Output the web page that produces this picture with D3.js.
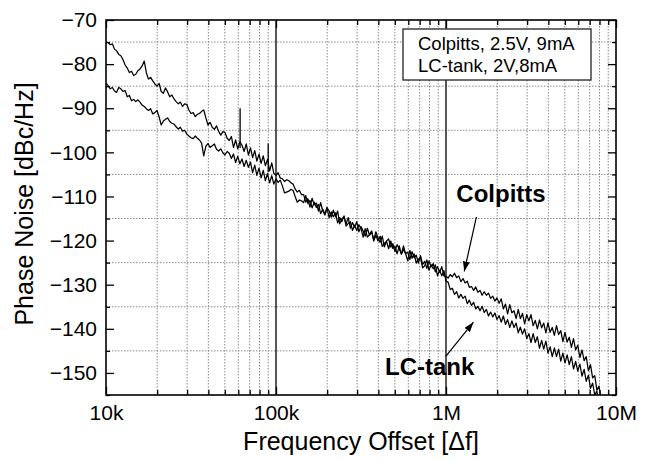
<!DOCTYPE html>
<html>
<head>
<meta charset="utf-8">
<script src="https://cdn.jsdelivr.net/npm/d3@7"></script>
<style>
body { margin: 0; background: #fff; }
svg text { font-family: "Liberation Sans", Arial, Helvetica, sans-serif; fill: #000; }
</style>
</head>
<body>
<svg width="647" height="460"></svg>
<script>
// sweep points inside one decade (80 per decade, log spaced)
let decadeSteps = [
  1.000, 1.029, 1.059, 1.090, 1.122, 1.155, 1.189, 1.223, 1.259, 1.296,
  1.334, 1.372, 1.413, 1.454, 1.496, 1.540, 1.585, 1.631, 1.679, 1.728,
  1.778, 1.830, 1.884, 1.939, 1.995, 2.054, 2.113, 2.175, 2.239, 2.304,
  2.371, 2.441, 2.512, 2.585, 2.661, 2.738, 2.818, 2.901, 2.985, 3.073,
  3.162, 3.255, 3.350, 3.447, 3.548, 3.652, 3.758, 3.868, 3.981, 4.097,
  4.217, 4.340, 4.467, 4.597, 4.732, 4.870, 5.012, 5.158, 5.309, 5.464,
  5.623, 5.788, 5.957, 6.131, 6.310, 6.494, 6.683, 6.879, 7.079, 7.286,
  7.499, 7.718, 7.943, 8.175, 8.414, 8.660, 8.913, 9.173, 9.441, 9.716
];
let sweepDecades = [1e4, 1e5, 1e6];

// phase noise readings, dBc/Hz (10k .. 10M)
let colpittsPN = [
  -75.0, -75.1, -75.6, -75.4, -76.6, -77.0, -77.8, -78.1, -79.0, -80.2,
  -80.9, -81.9, -81.6, -82.6, -82.3, -81.5, -81.1, -80.4, -79.3, -82.0,
  -83.4, -83.0, -83.8, -84.5, -85.0, -84.4, -86.2, -86.6, -85.4, -86.3,
  -87.4, -87.0, -87.9, -88.5, -89.0, -88.6, -89.6, -89.0, -89.1, -90.4,
  -91.2, -91.0, -91.9, -91.4, -91.2, -90.7, -90.4, -92.2, -93.8, -93.2,
  -94.3, -94.8, -94.0, -95.2, -96.1, -95.3, -95.5, -96.8, -97.3, -96.4,
  -98.9, -97.2, -99.2, -97.6, -98.4, -99.8, -98.1, -100.6, -99.0, -101.2,
  -99.6, -102.0, -100.4, -102.5, -100.8, -103.0, -101.6, -104.2, -102.4, -104.8,
  -105.2, -104.6, -105.8, -106.0, -106.6, -106.2, -106.4, -106.9, -107.2, -108.3,
  -109.0, -108.6, -109.6,
  -109.6, -111.3, -110.5, -112.4, -110.4, -111.9, -111.5, -113.3, -111.4, -113.3,
  -114.2, -112.5, -113.3, -114.7, -113.1, -114.6, -113.3, -116.2, -115.1, -114.6,
  -116.2, -114.8, -117.2, -115.9, -117.0, -115.7, -118.0, -116.8, -117.8, -119.0,
  -117.2, -118.8, -118.0, -119.8, -118.0, -119.4, -120.4, -119.0, -121.4, -120.1,
  -119.6, -121.5, -120.7, -122.5, -120.9, -121.9, -123.0, -121.2, -123.0, -122.6,
  -124.3, -122.5, -123.9, -123.3, -125.1, -123.4, -125.4, -124.7, -126.3, -124.6,
  -125.9, -125.2, -127.1, -125.9, -127.2, -125.9, -128.0,
  -128.1, -128.5, -127.7, -128.2, -127.4, -128.4, -128.0, -129.3, -128.6, -129.6,
  -129.2, -130.6, -130.4, -131.3, -130.5, -131.7, -131.3, -132.4, -131.6, -132.4,
  -131.9, -133.1, -132.6, -133.7, -133.0, -134.2, -133.2, -135.5, -134.4, -136.6,
  -134.5, -136.4, -135.9, -137.7, -135.6, -137.7, -136.5, -138.9, -136.8, -138.2,
  -136.8, -139.3, -138.1, -140.0, -138.0, -139.8, -138.7, -140.9, -138.6, -140.8,
  -139.7, -141.5, -139.3, -141.3, -140.4, -142.9, -140.8, -143.0, -141.9, -144.2,
  -142.2, -144.8, -143.7, -146.5, -144.8, -147.2, -146.3, -149.5, -148.1, -151.1,
  -150.6, -153.9, -153.0, -156.2, -155.7, -158.5, -158.0, -160, -160, -160,
  -160
];
let lcTankPN = [
  -84.3, -84.9, -85.6, -85.3, -86.1, -86.4, -85.3, -85.6, -86.2, -86.0,
  -87.4, -87.1, -88.3, -88.0, -88.5, -88.1, -88.6, -89.3, -89.6, -90.1,
  -90.5, -90.1, -91.3, -91.0, -90.5, -92.0, -93.8, -92.9, -92.5, -92.2,
  -93.0, -93.4, -93.6, -94.2, -94.7, -94.3, -95.2, -95.0, -95.8, -96.3,
  -96.7, -96.9, -96.3, -96.8, -97.2, -97.9, -100.8, -98.6, -98.0, -98.9,
  -98.5, -98.1, -99.3, -99.7, -99.2, -100.1, -100.6, -99.8, -100.2, -101.4,
  -100.4, -102.3, -100.9, -102.6, -101.5, -103.2, -101.8, -103.4, -102.2, -104.6,
  -102.9, -105.2, -103.6, -105.8, -104.1, -106.4, -104.8, -106.9, -105.3, -107.2,
  -106.0, -106.8, -106.3, -107.6, -109.2, -109.0, -108.8, -108.4, -108.6, -110.0,
  -111.3, -110.8, -111.0,
  -111.4, -109.8, -111.6, -110.9, -112.6, -111.3, -112.5, -111.8, -113.9, -112.9,
  -114.0, -112.6, -114.8, -113.5, -114.6, -113.7, -116.0, -114.8, -115.7, -114.4,
  -116.7, -116.1, -115.7, -117.7, -116.5, -117.7, -116.4, -117.3, -119.2, -117.3,
  -119.2, -118.7, -117.8, -120.1, -118.8, -120.1, -119.0, -121.3, -120.6, -120.2,
  -121.8, -120.1, -121.8, -121.3, -123.0, -121.2, -123.1, -122.0, -123.0, -124.6,
  -122.2, -124.0, -123.0, -125.1, -124.2, -123.9, -126.2, -125.7, -124.4, -126.7,
  -125.5, -126.4, -125.5, -128.0, -126.7, -128.0, -126.8,
  -129.2, -129.4, -131.1, -130.8, -132.2, -131.6, -133.0, -132.2, -133.1, -132.6,
  -134.3, -133.5, -134.7, -134.0, -135.5, -134.9, -135.9, -134.9, -136.3, -135.6,
  -137.1, -136.2, -137.3, -136.4, -137.9, -137.0, -138.5, -137.1, -139.0, -137.9,
  -139.7, -138.2, -139.7, -138.7, -140.9, -139.6, -141.2, -140.0, -142.2, -141.1,
  -143.1, -141.1, -143.1, -141.8, -144.4, -142.6, -144.6, -142.8, -145.5, -144.1,
  -146.3, -144.3, -146.3, -144.6, -147.3, -145.5, -147.7, -145.9, -148.1, -146.3,
  -149.1, -147.4, -149.6, -148.0, -150.7, -149.2, -151.9, -150.5, -153.5, -152.3,
  -155.0, -154.1, -157.0, -157.0, -158.8, -160, -160, -160, -160, -160,
  -160
];

// spurs on the close-in part
let spurFreq = [61.5e3, 90e3];
let spurBase = [-99, -104.5];
let spurTop = [-90, -98];

let xTickValues = [1e4, 1e5, 1e6, 1e7];
let xTickLabels = ["10k", "100k", "1M", "10M"];
let yTickValues = [-150, -140, -130, -120, -110, -100, -90, -80, -70];
let yMinorValues = [-155, -145, -135, -125, -115, -105, -95, -85, -75];

let legendLines = ["Colpitts, 2.5V, 9mA", "LC-tank, 2V,8mA"];

let freqHz = sweepDecades.flatMap(dec => decadeSteps.map(m => m * dec)).concat([1e7]);

var svg = d3.select("svg");
var plotL = 106, plotR = 616, plotT = 20, plotB = 395;

let x = d3.scaleLog().domain([1e4, 1e7]).range([plotL, plotR]);
let y = d3.scaleLinear().domain([-155, -70]).range([plotB, plotT]);

let xMinorValues = [];
sweepDecades.forEach(dec => {
  for (let m = 2; m <= 9; m++) xMinorValues.push(m * dec);
});

// grid
let grid = svg.append("g").attr("id", "grid");
grid.selectAll(".hminor").data(yMinorValues.filter(v => v > -155)).enter().append("line")
  .attr("x1", plotL).attr("x2", plotR)
  .attr("y1", d => y(d)).attr("y2", d => y(d))
  .attr("stroke", "#8a8a8a").attr("stroke-width", 1).attr("stroke-dasharray", "1.5,1.5");
grid.selectAll(".vminor").data(xMinorValues).enter().append("line")
  .attr("x1", d => x(d)).attr("x2", d => x(d))
  .attr("y1", plotT).attr("y2", plotB)
  .attr("stroke", "#8a8a8a").attr("stroke-width", 1).attr("stroke-dasharray", "1.5,1.5");
grid.selectAll(".hmajor").data(yTickValues.filter(v => v > -70)).enter().append("line")
  .attr("x1", plotL).attr("x2", plotR)
  .attr("y1", d => y(d)).attr("y2", d => y(d))
  .attr("stroke", "#444").attr("stroke-width", 1.3);
grid.selectAll(".vmajor").data(xTickValues.slice(1, 3)).enter().append("line")
  .attr("x1", d => x(d)).attr("x2", d => x(d))
  .attr("y1", plotT).attr("y2", plotB)
  .attr("stroke", "#111").attr("stroke-width", 1.4);

// curves
svg.append("clipPath").attr("id", "plotclip")
  .append("rect").attr("x", plotL).attr("y", plotT)
  .attr("width", plotR - plotL).attr("height", plotB - plotT);

let line = d3.line()
  .x(d => x(d[0]))
  .y(d => y(d[1]));

let curves = svg.append("g").attr("clip-path", "url(#plotclip)");
[colpittsPN, lcTankPN].forEach(series => {
  curves.append("path")
    .datum(d3.zip(freqHz, series))
    .attr("d", line)
    .attr("fill", "none")
    .attr("stroke", "#000")
    .attr("stroke-width", 1.25)
    .attr("stroke-linejoin", "round");
});
curves.selectAll(".spur").data(spurFreq).enter().append("line")
  .attr("x1", d => x(d)).attr("x2", d => x(d))
  .attr("y1", (d, i) => y(spurBase[i])).attr("y2", (d, i) => y(spurTop[i]))
  .attr("stroke", "#000").attr("stroke-width", 1.3);

// axes with inward ticks
function cleanAxis(g) {
  g.select(".domain").remove();
  g.selectAll(".tick line").attr("stroke", "#000").attr("stroke-width", 1.3);
}
let tickFont = 21;
svg.append("g").attr("transform", translate(plotL, 0))
  .call(d3.axisLeft(y).tickValues(yTickValues).tickSize(-8).tickPadding(9).tickFormat(d3.format("d")))
  .call(cleanAxis)
  .selectAll("text").attr("font-size", tickFont).attr("font-family", null);
svg.append("g").attr("transform", translate(plotL, 0))
  .call(d3.axisLeft(y).tickValues(yMinorValues).tickSize(-4).tickFormat(""))
  .call(cleanAxis);
svg.append("g").attr("transform", translate(plotR, 0))
  .call(d3.axisRight(y).tickValues(yTickValues).tickSize(-8).tickFormat(""))
  .call(cleanAxis);
svg.append("g").attr("transform", translate(plotR, 0))
  .call(d3.axisRight(y).tickValues(yMinorValues).tickSize(-4).tickFormat(""))
  .call(cleanAxis);
svg.append("g").attr("transform", translate(0, plotB))
  .call(d3.axisBottom(x).tickValues(xTickValues).tickSize(-8).tickPadding(10)
    .tickFormat((d, i) => xTickLabels[i]))
  .call(cleanAxis)
  .selectAll("text").attr("font-size", tickFont).attr("font-family", null);
svg.append("g").attr("transform", translate(0, plotB))
  .call(d3.axisBottom(x).tickValues(xMinorValues).tickSize(-5).tickFormat(""))
  .call(cleanAxis);
svg.append("g").attr("transform", translate(0, plotT))
  .call(d3.axisTop(x).tickValues(xTickValues).tickSize(-8).tickFormat(""))
  .call(cleanAxis);
svg.append("g").attr("transform", translate(0, plotT))
  .call(d3.axisTop(x).tickValues(xMinorValues).tickSize(-5).tickFormat(""))
  .call(cleanAxis);

// frame
svg.append("rect")
  .attr("x", plotL).attr("y", plotT)
  .attr("width", plotR - plotL).attr("height", plotB - plotT)
  .attr("fill", "none").attr("stroke", "#000").attr("stroke-width", 1.6);

// axis titles
svg.append("text")
  .attr("transform", "rotate(-90)")
  .attr("x", -204).attr("y", 33)
  .attr("text-anchor", "middle")
  .attr("font-size", 25)
  .text("Phase Noise [dBc/Hz]");
svg.append("text")
  .attr("x", (plotL + plotR) / 2).attr("y", 450)
  .attr("text-anchor", "middle")
  .attr("font-size", 25)
  .text("Frequency Offset [\u0394f]");

// legend box
let legend = svg.append("g").attr("transform", translate(403, 29));
legend.append("rect")
  .attr("width", 188).attr("height", 51)
  .attr("fill", "#fff").attr("stroke", "#222").attr("stroke-width", 1.3);
legend.selectAll("text").data(legendLines).enter().append("text")
  .attr("x", 15).attr("y", (d, i) => 21 + i * 22)
  .attr("font-size", 18.5)
  .text(d => d);

// annotations
svg.append("defs").append("marker")
  .attr("id", "head")
  .attr("markerUnits", "userSpaceOnUse")
  .attr("markerWidth", 10).attr("markerHeight", 7)
  .attr("refX", 10).attr("refY", 3.5)
  .attr("orient", "auto")
  .append("path").attr("d", "M0,0L10,3.5L0,7Z").attr("fill", "#000");

let notes = [
  { label: "Colpitts", tx: 1.15e6, ty: -111.3, from: [1.51e6, -114.6], to: [1.28e6, -127.0] },
  { label: "LC-tank", tx: 4.38e5, ty: -150.5, from: [1.0e6, -146.2], to: [1.45e6, -138.5] }
];
notes.forEach(n => {
  svg.append("line")
    .attr("x1", x(n.from[0])).attr("y1", y(n.from[1]))
    .attr("x2", x(n.to[0])).attr("y2", y(n.to[1]))
    .attr("stroke", "#000").attr("stroke-width", 1.2)
    .attr("marker-end", "url(#head)");
  svg.append("text")
    .attr("x", x(n.tx)).attr("y", y(n.ty))
    .attr("font-size", 24).attr("font-weight", "bold")
    .text(n.label);
});

function translate(x, y) {
  return `translate(${x},${y})`;
}
</script>
</body>
</html>
